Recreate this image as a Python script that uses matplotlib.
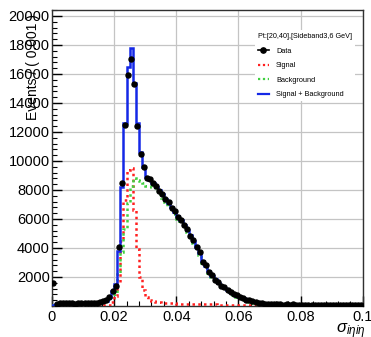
import numpy as np
import matplotlib
matplotlib.use("Agg")
import matplotlib.pyplot as plt
from matplotlib.lines import Line2D
from matplotlib.ticker import MultipleLocator

plt.rcParams['font.family'] = ['Liberation Sans', 'DejaVu Sans']
plt.rcParams['mathtext.fontset'] = 'custom'
plt.rcParams['mathtext.rm'] = 'Liberation Sans'
plt.rcParams['mathtext.it'] = 'Liberation Sans:italic'

# ---- data (100 bins of width 0.001 from 0 to 0.1) ----
x_min, x_max, n_bins = 0.0, 0.1, 100

signal = [20, 20, 20, 20, 20, 20, 20, 20, 20, 20,
          20, 20, 20, 20, 25, 30, 40, 60, 100, 300,
          700, 1600, 4500, 7300, 9400, 9500, 6600, 3900, 2000, 1100,
          600, 400, 320, 280, 250, 230, 210, 200, 190, 180,
          170, 160, 150, 145, 140, 135, 130, 125, 120, 115,
          110, 105, 104, 102, 100, 98, 96, 95, 93, 92,
          90, 88, 87, 86, 85, 84, 83, 82, 81, 80,
          78, 77, 76, 75, 74, 72, 71, 70, 69, 68,
          67, 66, 65, 64, 63, 62, 61, 60, 59, 58,
          57, 56, 55, 54, 53, 52, 51, 50, 49, 48]

background = [80, 130, 160, 180, 200, 180, 190, 180, 170, 180,
              190, 180, 190, 200, 215, 250, 290, 290, 500, 700,
              800, 2200, 3700, 5300, 7100, 8300, 8800, 8700, 8600, 8500,
              8300, 8300, 8180, 7920, 7750, 7470, 7190, 6900, 6610, 6320,
              6030, 5740, 5450, 5105, 4760, 4365, 3970, 3525, 2980, 2635,
              2290, 1995, 1746, 1498, 1300, 1152, 1004, 855, 737, 628,
              530, 442, 363, 294, 235, 186, 137, 108, 79, 60,
              55, 52, 50, 48, 46, 44, 42, 40, 38, 36,
              35, 34, 33, 32, 31, 30, 29, 28, 27, 26,
              25, 24, 23, 22, 21, 20, 19, 18, 17, 16]

data = [1600, 120, 210, 180, 240, 200, 230, 170, 220, 190,
        230, 190, 200, 240, 220, 300, 330, 380, 650, 1000,
        1350, 4100, 8500, 12500, 15900, 17000, 15300, 12400, 10500, 9600,
        8800, 8750, 8450, 8250, 7950, 7750, 7350, 7150, 6750, 6550,
        6150, 5950, 5550, 5300, 4850, 4550, 4050, 3700, 3050, 2800,
        2350, 2150, 1800, 1650, 1380, 1280, 1080, 970, 810, 740,
        600, 540, 440, 390, 310, 280, 210, 200, 150, 150,
        120, 130, 110, 120, 100, 110, 100, 105, 95, 100,
        95, 100, 90, 95, 90, 85, 95, 80, 90, 85,
        80, 85, 75, 80, 70, 80, 75, 70, 75, 65]

legend_header = "Pt:[20,40],[Sideband3,6 GeV]"
legend_labels = ["Data", "Signal", "Background", "Signal + Background"]
y_title = "Events / ( 0.001 )"
x_title = r"$\sigma_{i\eta i\eta}$"

edges = np.linspace(x_min, x_max, n_bins + 1)
centers = 0.5 * (edges[:-1] + edges[1:])
sig = np.array(signal, float)
bkg = np.array(background, float)
total = sig + bkg
dat = np.array(data, float)

fig = plt.figure(figsize=(3.71, 3.37), dpi=100)
ax = fig.add_axes([0.140, 0.092, 0.838, 0.878])

blue = '#1428e6'
red = '#ff2020'
green = '#40d040'

ax.stairs(sig, edges, color=red, lw=1.8, linestyle=(0, (1, 1.3)), zorder=3)
ax.stairs(bkg, edges, color=green, lw=1.8, linestyle=(0, (1, 1.3)), zorder=3)
ax.stairs(total, edges, color=blue, lw=1.8, zorder=4)
ax.errorbar(centers, dat, yerr=np.sqrt(dat), fmt='o', color='black',
            ms=3.6, lw=0.8, capsize=0, zorder=5)

ax.set_xlim(x_min, x_max)
ax.set_ylim(0, 20400)
ax.xaxis.set_major_locator(MultipleLocator(0.02))
ax.xaxis.set_minor_locator(MultipleLocator(0.004))
ax.yaxis.set_major_locator(MultipleLocator(2000))
ax.yaxis.set_minor_locator(MultipleLocator(400))
ax.set_xticks([0, 0.02, 0.04, 0.06, 0.08, 0.1])
ax.set_xticklabels(["0", "0.02", "0.04", "0.06", "0.08", "0.1"])
yt = list(range(2000, 20001, 2000))
ax.set_yticks(yt)
ax.set_yticklabels([str(v) for v in yt])
ax.tick_params(axis='both', which='major', direction='in', length=7, width=1,
               labelsize=10.5, top=False, right=False)
ax.tick_params(axis='both', which='minor', direction='in', length=3.5, width=0.8,
               top=False, right=False)
ax.tick_params(axis='y', pad=1.5)
ax.tick_params(axis='x', pad=3)
ax.grid(True, which='major', color='#c4c4c4', lw=0.9)
ax.set_axisbelow(True)
for s in ax.spines.values():
    s.set_linewidth(1.0)
    s.set_color('#303030')

ax.text(-0.062, 0.985, y_title, transform=ax.transAxes, rotation=90,
        ha='center', va='top', fontsize=10)
fig.text(0.985, 0.012, x_title, ha='right', va='baseline', fontsize=12)

handles = [Line2D([], [], color='black', marker='o', ms=3.8, lw=1.2),
           Line2D([], [], color=red, lw=1.6, linestyle=(0, (1, 1.2))),
           Line2D([], [], color=green, lw=1.6, linestyle=(0, (1, 1.2))),
           Line2D([], [], color=blue, lw=1.6)]
leg = ax.legend(handles, legend_labels, loc='upper left',
                bbox_to_anchor=(0.652, 0.932), fontsize=5.3,
                title=legend_header, title_fontsize=5.2, alignment='left',
                frameon=True, facecolor='white', edgecolor='none',
                framealpha=1.0, fancybox=False, handlelength=1.6,
                handletextpad=0.9, labelspacing=1.0, borderpad=0.4,
                borderaxespad=0)
leg.get_frame().set_linewidth(0)

fig.savefig("out.png", dpi=100)
